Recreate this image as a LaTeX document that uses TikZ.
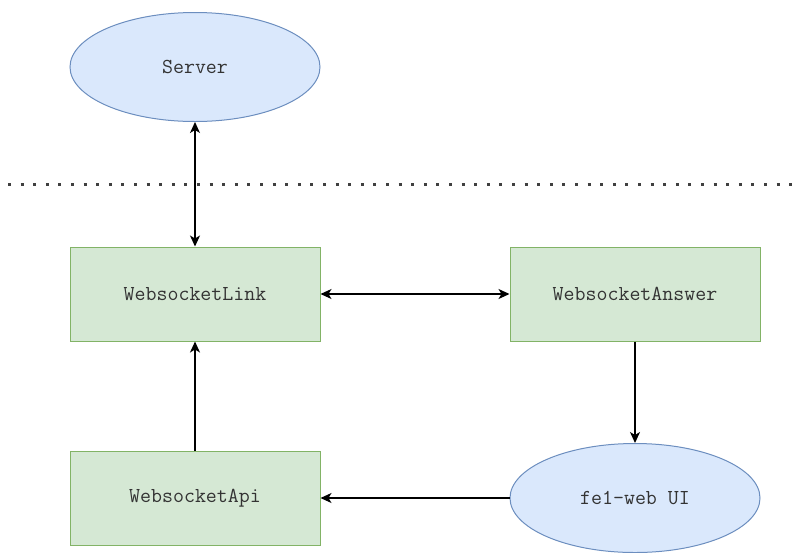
\documentclass[tikz,border=0pt]{standalone}
\usetikzlibrary{arrows.meta,shapes.geometric}
\definecolor{bluefill}{HTML}{DAE8FC}
\definecolor{bluedraw}{HTML}{6C8EBF}
\definecolor{greenfill}{HTML}{D5E8D4}
\definecolor{greendraw}{HTML}{82B366}
\definecolor{txt}{HTML}{333333}
\begin{document}
\begin{tikzpicture}[x=1pt,y=-1pt,
  ell/.style={ellipse,draw=bluedraw,fill=bluefill,line width=1pt,minimum width=250pt,minimum height=109pt,inner sep=0pt,font=\ttfamily\fontsize{21.3}{22}\selectfont,text=txt},
  box/.style={rectangle,draw=greendraw,fill=greenfill,line width=1pt,minimum width=250pt,minimum height=94pt,inner sep=0pt,font=\ttfamily\fontsize{21.3}{22}\selectfont,text=txt},
  conn/.style={line width=1.3pt,black,-{Stealth[length=11pt,width=10pt,inset=3pt]}},
  bconn/.style={line width=1.3pt,black,{Stealth[length=11pt,width=10pt,inset=3pt]}-{Stealth[length=11pt,width=10pt,inset=3pt]}}]
\useasboundingbox (0,0) rectangle (802,552);
\coordinate (dl) at (8,184);
\coordinate (dr) at (797,184);
\draw[line width=3pt,color=black!75,dash pattern=on 3pt off 9.6pt] (dl) -- (dr);
\node[ell] (server) at (195,67) {Server};
\node[box] (link) at (195,294) {WebsocketLink};
\node[box] (answer) at (635,294) {WebsocketAnswer};
\node[box] (api) at (195,498) {WebsocketApi};
\node[ell] (ui) at (635,498) {fe1-web UI};
\draw[bconn] (server) -- (link);
\draw[bconn] (link) -- (answer);
\draw[conn] (answer) -- (ui);
\draw[conn] (ui.west) -- (api.east);
\draw[conn] (api) -- (link);
\end{tikzpicture}
\end{document}
